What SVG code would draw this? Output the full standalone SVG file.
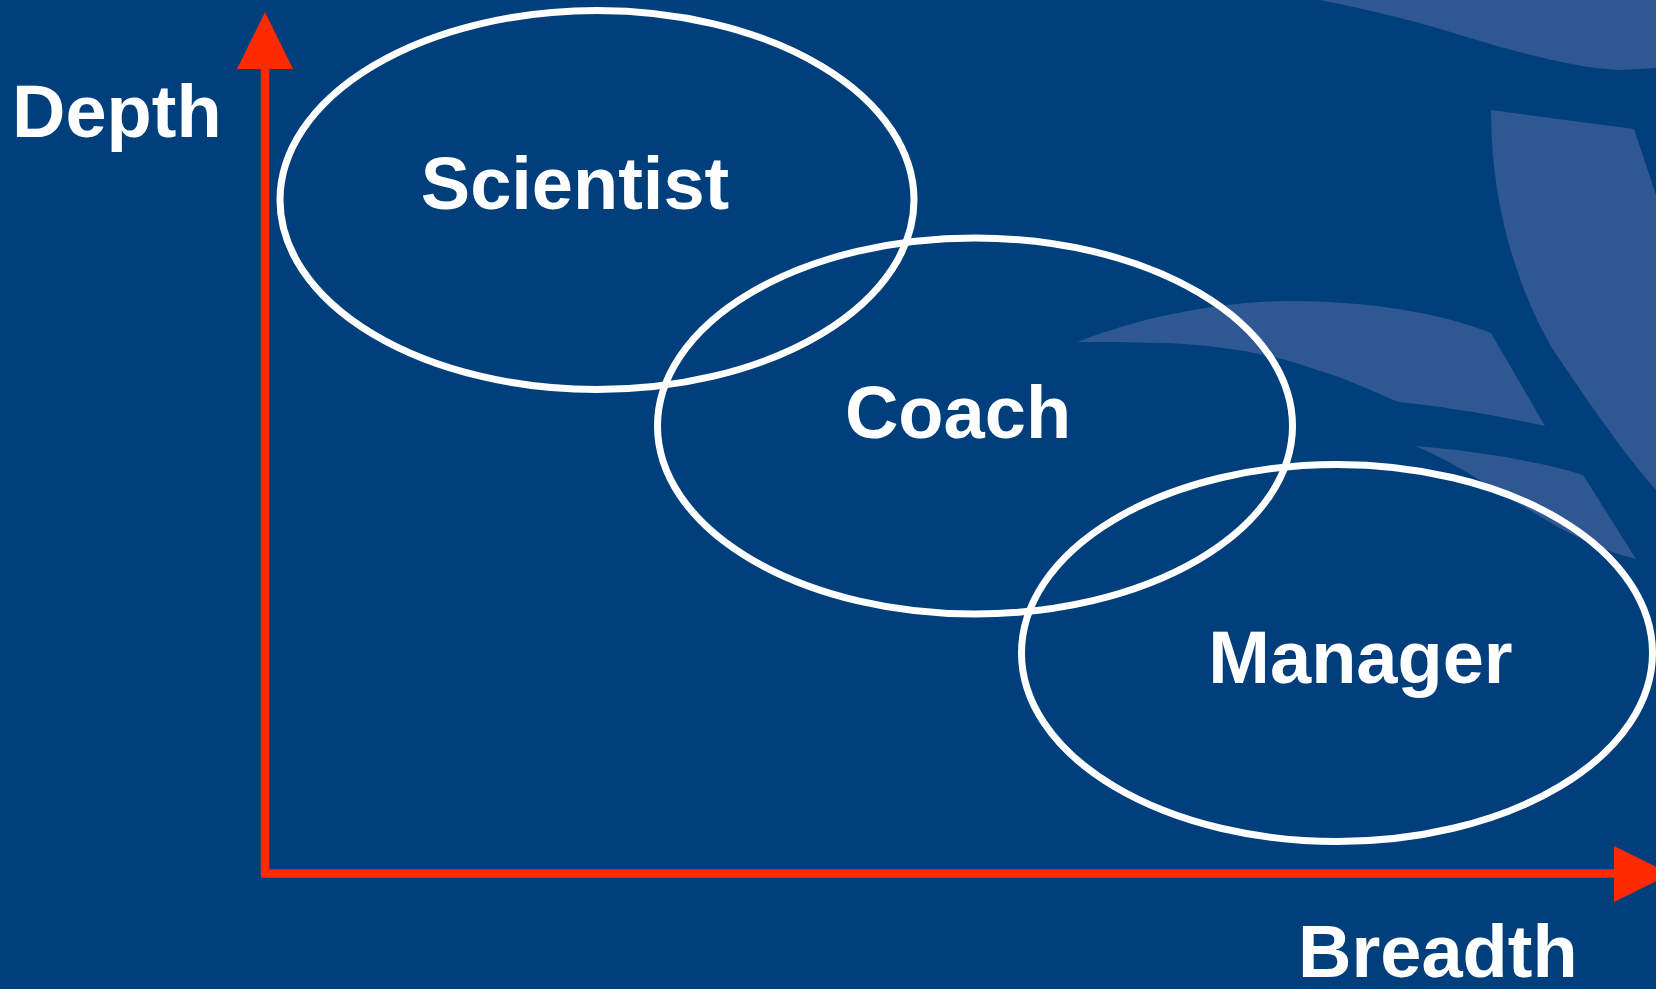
<svg xmlns="http://www.w3.org/2000/svg" width="1656" height="989" viewBox="0 0 1656 989">
  <style>
    .bg { fill: #013f7c; }
    .deco { fill: #2f5791; }
    .role { fill: none; stroke: #ffffff; stroke-width: 7; }
    .label { font-family: "Liberation Sans", Arial, sans-serif; font-weight: bold; font-size: 74px; fill: #ffffff; }
    .axis { stroke: #ff2a00; stroke-width: 8.5; fill: none; }
    .head { fill: #ff2a00; }
  </style>

  <!-- background -->
  <rect class="bg" x="0" y="0" width="1656" height="989"/>

  <!-- decorative swooshes, top right -->
  <g id="decor">
    <path class="deco" d="M1320,0 C1370,10 1420,22 1470,38 C1530,56 1580,68 1620,70 L1656,68 L1656,0 Z"/>
    <path class="deco" d="M1491,110 L1634,129 L1656,195 L1656,490 C1625,455 1590,405 1552,348 C1530,310 1515,270 1504,225 C1495,185 1491,150 1491,110 Z"/>
    <path class="deco" d="M1077,342 C1140,318 1210,303 1282,301 C1360,300 1440,312 1491,333 L1545,426 C1490,414 1440,406 1398,402 C1370,390 1345,378 1320,371 C1280,356 1230,346 1166,343 C1130,342 1100,342 1077,342 Z"/>
    <path class="deco" d="M1415,446 C1480,451 1540,462 1583,475 L1636,559 C1620,555 1605,550 1591,543 C1570,534 1550,523 1533,512 C1510,499 1490,487 1475,477 C1455,465 1435,454 1415,446 Z"/>
  </g>

  <!-- axes -->
  <g id="connectors">
    <line class="axis" x1="265" y1="66" x2="265" y2="873"/>
    <polygon class="head" points="265,12 237,69 293,69"/>
    <line class="axis" x1="261" y1="873.5" x2="1617" y2="873.5"/>
    <polygon class="head" points="1614,846 1614,902 1671,874"/>
  </g>

  <!-- axis labels -->
  <g id="axis-depth">
    <text class="label" x="12" y="137">Depth</text>
  </g>
  <g id="axis-breadth">
    <text class="label" x="1298" y="977">Breadth</text>
  </g>

  <!-- role ellipses -->
  <g id="scientist">
    <ellipse class="role" cx="597" cy="200" rx="317" ry="189.5"/>
    <text class="label" x="575" y="209" text-anchor="middle">Scientist</text>
  </g>
  <g id="coach">
    <ellipse class="role" cx="975" cy="426" rx="317.5" ry="188"/>
    <text class="label" x="958" y="438" text-anchor="middle">Coach</text>
  </g>
  <g id="manager">
    <ellipse class="role" cx="1337" cy="653" rx="315.5" ry="188.5"/>
    <text class="label" x="1360.5" y="683" text-anchor="middle">Manager</text>
  </g>
</svg>
